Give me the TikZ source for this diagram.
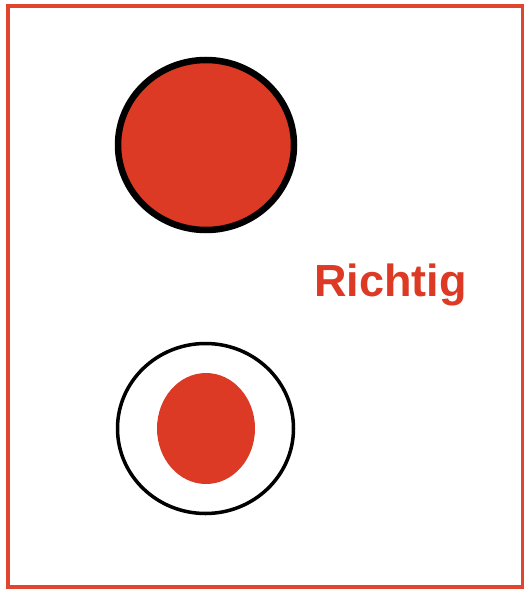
\documentclass[tikz,border=0pt]{standalone}
\usepackage{fontspec}
\setmainfont{Liberation Sans}
\definecolor{rred}{HTML}{DC3A24}
\definecolor{bred}{HTML}{E2452F}
\begin{document}
\begin{tikzpicture}[x=1pt,y=-1pt,
  frame/.style={draw=bred,line width=3.5pt},
  ring/.style={draw=black},
  lbl/.style={text=rred,font=\bfseries\fontsize{45}{45}\selectfont,inner sep=0pt,anchor=base west}]
\useasboundingbox (0,0) rectangle (524,589);
\draw[frame] (8,6) rectangle (523,587);
\filldraw[ring,fill=rred,line width=6.5pt] (206,145) ellipse [x radius=88, y radius=85];
\draw[ring,line width=3.5pt] (205.5,428.5) ellipse [x radius=88, y radius=85];
\fill[rred] (206,428.5) ellipse [x radius=49, y radius=55.5];
\node[lbl] (t) at (314,296) {Richtig};
\end{tikzpicture}
\end{document}
